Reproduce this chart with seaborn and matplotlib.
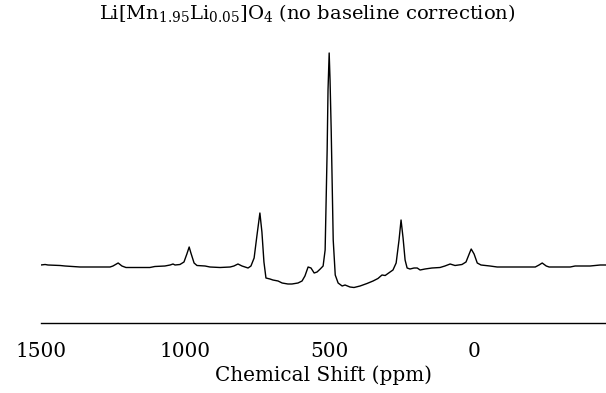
import matplotlib
matplotlib.use("Agg")
import matplotlib.pyplot as plt
import seaborn as sns
import pandas as pd

# Chemical shift (ppm) and intensity (arbitrary units)
ppm = [1500, 1485, 1475, 1433, 1416, 1364, 1295, 1260, 1250, 1232, 1219, 1205,
       1122, 1105, 1070, 1052, 1042, 1035, 1018, 1004, 994, 986, 980, 969, 959,
       931, 914, 879, 844, 831, 817, 803, 782, 772, 761, 751, 741, 734, 727,
       720, 706, 696, 678, 664, 644, 630, 609, 595, 585, 574, 564, 553, 543,
       532, 522, 515, 508, 505, 501, 498, 494, 487, 480, 470, 456, 446, 429,
       415, 394, 370, 349, 332, 318, 307, 290, 280, 269, 259, 252, 245, 238,
       231, 221, 207, 196, 186, 169, 145, 117, 100, 82, 65, 41, 27, 16, 9, -1,
       -12, -25, -56, -81, -126, -213, -226, -237, -251, -261, -334, -351,
       -403, -438, -458]
intensity = [1, 1.5, 1, 0.5, 0, -1, -1, -1, 0, 3, 0, -1.5,
             -1.5, -0.5, 0, 1, 2, 1, 1.5, 4, 12, 19, 13, 3, 0.5,
             0, -1, -1.5, -1, 0, 2, 0, -2, 0, 8, 31, 53, 34, 4,
             -12, -13, -14, -15, -17, -18, -18, -17, -15, -10, -1, -2, -7, -6,
             -3, 0, 16, 116, 176, 213, 186, 136, 26, -9, -17, -20, -19, -21,
             -21.5, -20, -17.5, -15, -12.5, -9, -9.5, -6, -4, 3, 26, 46, 28, 6,
             -2, -3, -2, -2, -4, -3, -2, -1.5, 0, 2, 0.5, 1.5, 4, 12, 17, 12,
             3, 1, 0, -1, -1, -1, 1, 3, 0, -1, -1, 0,
             0, 1, 1]

title_text = r"Li[Mn$_{1.95}$Li$_{0.05}$]O$_4$ (no baseline correction)"
x_label = "Chemical Shift (ppm)"
x_ticks = [1500, 1000, 500, 0]
x_tick_labels = ["1500", "1000", "500", "0"]

sns.set_style("white")
plt.rcParams["font.family"] = ["DejaVu Serif"]
plt.rcParams["mathtext.fontset"] = "dejavuserif"

df = pd.DataFrame({"ppm": ppm, "intensity": intensity})

fig = plt.figure(figsize=(6.06, 3.93), dpi=100)
ax = fig.add_axes([40.8 / 606, 70 / 393, 1 - 40.8 / 606, 278 / 393])

sns.lineplot(data=df, x="ppm", y="intensity", color="black", linewidth=1.0,
             estimator=None, ax=ax)

ax.set_xlim(1500, -458)
ax.set_ylim(-57, 221)
ax.set_xticks(x_ticks)
ax.set_xticklabels(x_tick_labels)
ax.set_yticks([])
ax.set_ylabel("")
ax.set_xlabel(x_label, fontsize=14.4, labelpad=3, color="black")
ax.tick_params(axis="x", direction="in", length=3, width=1.0, pad=14,
               labelsize=14.4, color="black", labelcolor="black")
for side in ["left", "top", "right"]:
    ax.spines[side].set_visible(False)
ax.spines["bottom"].set_color("black")
ax.spines["bottom"].set_linewidth(1.0)

fig.text(307.5 / 606, 1 - 19 / 393, title_text, ha="center", va="baseline",
         fontsize=14, color="black")

fig.savefig("out.png", dpi=100)
